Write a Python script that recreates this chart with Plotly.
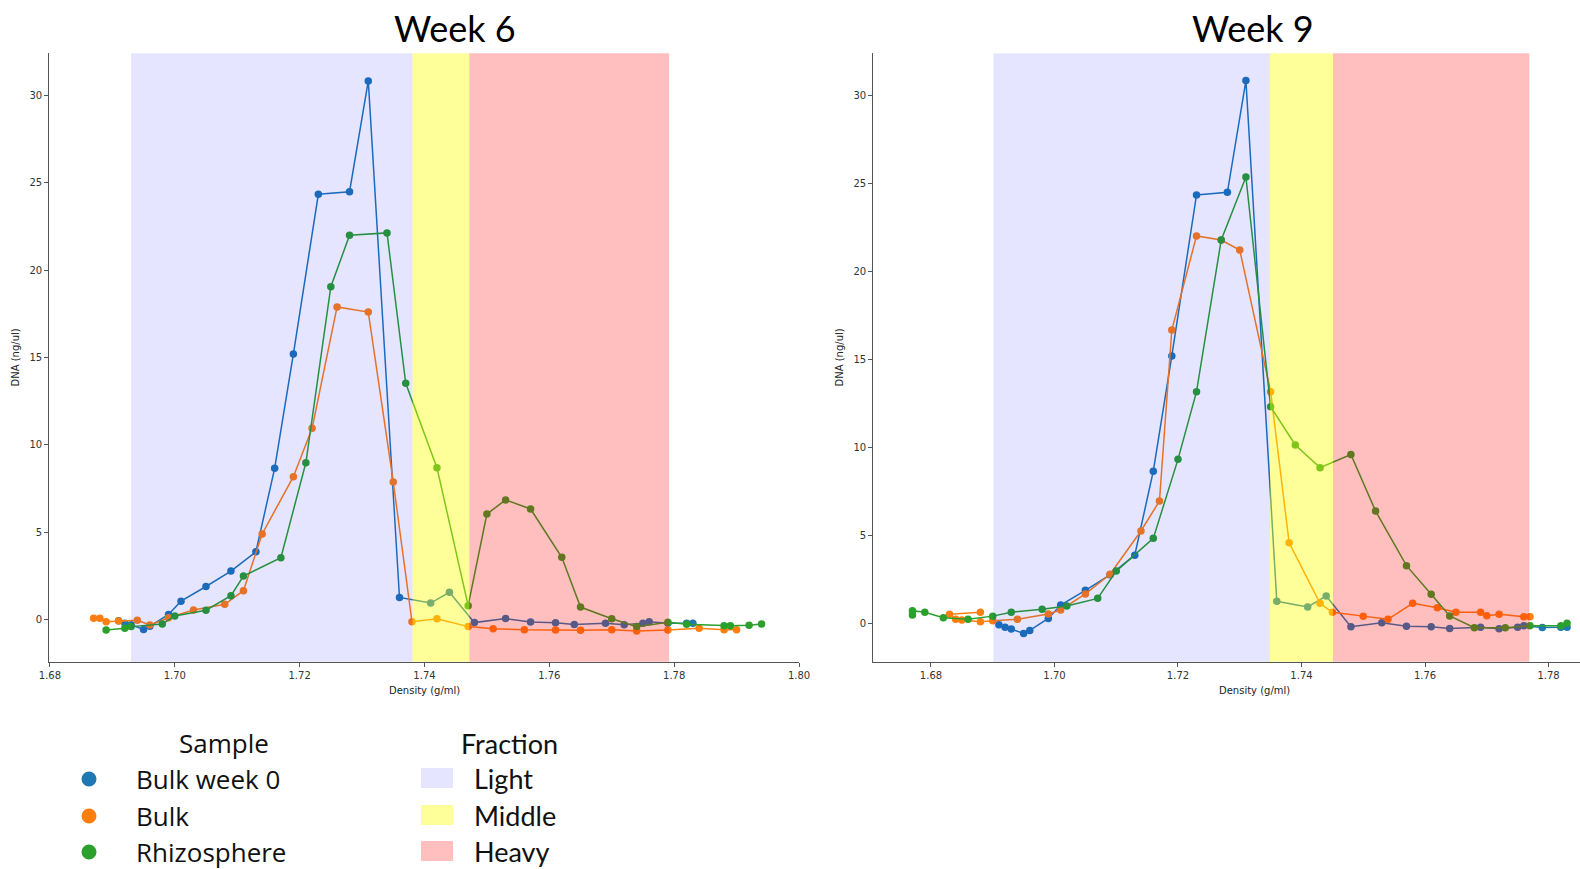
import plotly.graph_objects as go

W, H = 1580, 869

# ---------------- data ----------------
bulk0_x = [1.691, 1.692, 1.693, 1.695, 1.696, 1.699, 1.701, 1.705, 1.709, 1.713, 1.716, 1.719, 1.723, 1.728,
           1.731, 1.736, 1.741, 1.744, 1.748, 1.753, 1.757, 1.761, 1.764, 1.769, 1.772, 1.775, 1.776, 1.779,
           1.782, 1.783]
bulk0_y = [-0.08, -0.22, -0.32, -0.58, -0.40, 0.28, 1.04, 1.88, 2.76, 3.87, 8.65, 15.2, 24.35, 24.5,
           30.85, 1.25, 0.93, 1.55, -0.19, 0.04, -0.16, -0.20, -0.30, -0.22, -0.31, -0.22, -0.14, -0.23,
           -0.22, -0.22]

w6_bulk_x = [1.687, 1.688, 1.689, 1.691, 1.694, 1.696, 1.699, 1.703, 1.708, 1.711, 1.714, 1.719, 1.722, 1.726,
             1.731, 1.735, 1.738, 1.742, 1.747, 1.751, 1.756, 1.761, 1.765, 1.770, 1.774, 1.779, 1.784, 1.788,
             1.790]
w6_bulk_y = [0.06, 0.06, -0.14, -0.10, -0.06, -0.33, 0.09, 0.53, 0.86, 1.64, 4.89, 8.17, 10.94, 17.9,
             17.6, 7.87, -0.14, 0.03, -0.42, -0.54, -0.60, -0.61, -0.63, -0.60, -0.67, -0.61, -0.52, -0.60,
             -0.60]

w6_rhizo_x = [1.689, 1.692, 1.693, 1.698, 1.700, 1.705, 1.709, 1.711, 1.717, 1.721, 1.725, 1.728, 1.734, 1.737,
              1.742, 1.747, 1.750, 1.753, 1.757, 1.762, 1.765, 1.770, 1.774, 1.779, 1.782, 1.788, 1.789, 1.792,
              1.794]
w6_rhizo_y = [-0.61, -0.52, -0.42, -0.27, 0.19, 0.52, 1.35, 2.48, 3.53, 8.97, 19.06, 22.0, 22.14, 13.52,
              8.69, 0.78, 6.03, 6.84, 6.32, 3.55, 0.70, 0.03, -0.42, -0.17, -0.29, -0.37, -0.37, -0.34,
              -0.27]

w9_bulk_x = [1.688, 1.683, 1.684, 1.685, 1.688, 1.690, 1.694, 1.699, 1.701, 1.705, 1.709, 1.714, 1.717, 1.719,
             1.723, 1.727, 1.730, 1.735, 1.738, 1.743, 1.745, 1.750, 1.754, 1.758, 1.762, 1.765, 1.769, 1.770,
             1.772, 1.776, 1.777]
w9_bulk_y = [0.63, 0.51, 0.23, 0.19, 0.09, 0.15, 0.23, 0.53, 0.76, 1.67, 2.79, 5.25, 6.95, 16.67,
             22.02, 21.79, 21.22, 13.17, 4.58, 1.14, 0.63, 0.41, 0.23, 1.14, 0.89, 0.63, 0.63, 0.43,
             0.51, 0.38, 0.38]

w9_rhizo_x = [1.677, 1.677, 1.679, 1.682, 1.686, 1.690, 1.693, 1.698, 1.702, 1.707, 1.710, 1.716, 1.720, 1.723,
              1.727, 1.731, 1.735, 1.739, 1.743, 1.748, 1.752, 1.757, 1.761, 1.764, 1.768, 1.773, 1.777, 1.782,
              1.783]
w9_rhizo_y = [0.47, 0.72, 0.63, 0.32, 0.23, 0.41, 0.63, 0.80, 0.98, 1.42, 2.97, 4.83, 9.32, 13.17,
              21.79, 25.37, 12.31, 10.14, 8.85, 9.60, 6.38, 3.28, 1.65, 0.42, -0.25, -0.25, -0.14, -0.14,
              0.0]

# fraction bands (density bounds): light, middle, heavy
w6_bands = [1.6930, 1.7381, 1.7472, 1.7792]
w9_bands = [1.6901, 1.7349, 1.7451, 1.7769]

sample_names = ["Bulk week 0", "Bulk", "Rhizosphere"]
sample_colors = ["#1f77b4", "#ff7f0e", "#2ca02c"]
fraction_names = ["Light", "Middle", "Heavy"]
fraction_fills = ["rgba(0,0,255,0.10)", "rgba(255,255,0,0.40)", "rgba(255,0,0,0.25)"]

titles = ["Week 6", "Week 9"]
x_label = "Density (g/ml)"
y_label = "DNA (ng/ul)"
y_ticks = [0, 5, 10, 15, 20, 25, 30]
x_ticks_left = [1.68, 1.70, 1.72, 1.74, 1.76, 1.78, 1.80]
x_ticks_right = [1.68, 1.70, 1.72, 1.74, 1.76, 1.78]


def PX(px):
    return px / W


def PY(py):
    return 1 - py / H


fig = go.Figure()

panels = [
    ("x", "y", [(bulk0_x, bulk0_y), (w6_bulk_x, w6_bulk_y), (w6_rhizo_x, w6_rhizo_y)]),
    ("x2", "y2", [(bulk0_x, bulk0_y), (w9_bulk_x, w9_bulk_y), (w9_rhizo_x, w9_rhizo_y)]),
]
for xa, ya, series in panels:
    for (sx, sy), name, col in zip(series, sample_names, sample_colors):
        fig.add_trace(go.Scatter(
            x=sx, y=sy, xaxis=xa, yaxis=ya, name=name, mode="lines+markers",
            line=dict(color=col, width=1.5), marker=dict(color=col, size=7.5),
            showlegend=False, cliponaxis=True))

# bands drawn over the data (semi-transparent)
for xa, bands in (("x", w6_bands), ("x2", w9_bands)):
    for i in range(3):
        fig.add_shape(type="rect", xref=xa, yref=("y domain" if xa == "x" else "y2 domain"),
                      x0=bands[i], x1=bands[i + 1], y0=0, y1=1,
                      fillcolor=fraction_fills[i], line=dict(width=0), layer="above")

ydom = [PY(661.7), PY(53.3)]
tickfont = dict(family="DejaVu Sans", size=10, color="#333333")
axis_common = dict(showline=True, linecolor="#555555", linewidth=1.2, ticks="outside", ticklen=4,
                   tickcolor="#555555", tickwidth=1, showgrid=False, zeroline=False, tickfont=tickfont,
                   automargin=False)

fig.update_layout(
    width=W, height=H, margin=dict(l=0, r=0, t=0, b=0, pad=0, autoexpand=False),
    paper_bgcolor="white", plot_bgcolor="white", showlegend=False,
    xaxis=dict(domain=[PX(49.3), PX(799)], range=[1.6799, 1.8000], anchor="y",
               tickvals=x_ticks_left, ticktext=[f"{v:.2f}" for v in x_ticks_left], **axis_common),
    yaxis=dict(domain=ydom, range=[-2.43, 32.43], anchor="x",
               tickvals=y_ticks, ticktext=[str(v) for v in y_ticks], **axis_common),
    xaxis2=dict(domain=[PX(873.3), 1.0], range=[1.67066, 1.7851], anchor="y2",
                tickvals=x_ticks_right, ticktext=[f"{v:.2f}" for v in x_ticks_right], **axis_common),
    yaxis2=dict(domain=ydom, range=[-2.18, 32.40], anchor="x2",
                tickvals=y_ticks, ticktext=[str(v) for v in y_ticks], **axis_common),
)

ann = []
# titles
for t, cx in zip(titles, [455, 1253]):
    ann.append(dict(text=t, x=PX(cx), y=PY(28), xref="paper", yref="paper", xanchor="center",
                    yanchor="middle", showarrow=False,
                    font=dict(family="Lato", size=36, color="black")))
# axis titles
for cx in (424, 1254.5):
    ann.append(dict(text=x_label, x=PX(cx), y=PY(690), xref="paper", yref="paper", xanchor="center",
                    yanchor="middle", showarrow=False,
                    font=dict(family="DejaVu Sans", size=10, color="#222222")))
for cx in (15, 839):
    ann.append(dict(text=y_label, x=PX(cx), y=PY(357.5), xref="paper", yref="paper", xanchor="center",
                    yanchor="middle", showarrow=False, textangle=-90,
                    font=dict(family="DejaVu Sans", size=10, color="#222222")))

# legend: Sample
ann.append(dict(text="Sample", x=PX(224), y=PY(743), xref="paper", yref="paper", xanchor="center",
                yanchor="middle", showarrow=False, font=dict(family="Open Sans", size=26, color="#111111")))
rows = [779, 816, 852]
for name, col, ry in zip(sample_names, sample_colors, rows):
    r = 7.5
    fig.add_shape(type="circle", xref="paper", yref="paper", x0=PX(89 - r), x1=PX(89 + r),
                  y0=PY(ry + r), y1=PY(ry - r), fillcolor=col, line=dict(width=0))
    ann.append(dict(text=name, x=PX(134), y=PY(ry), xref="paper", yref="paper", xanchor="left",
                    yanchor="middle", showarrow=False, font=dict(family="Open Sans", size=26, color="#111111")))

# legend: Fraction
ann.append(dict(text="Fraction", x=PX(509), y=PY(743), xref="paper", yref="paper", xanchor="center",
                yanchor="middle", showarrow=False, font=dict(family="Lato", size=27, color="#111111")))
for name, fill, ry in zip(fraction_names, fraction_fills, [778, 815, 851]):
    fig.add_shape(type="rect", xref="paper", yref="paper", x0=PX(421), x1=PX(453),
                  y0=PY(ry + 10), y1=PY(ry - 10), fillcolor=fill, line=dict(width=0))
    ann.append(dict(text=name, x=PX(472), y=PY(ry), xref="paper", yref="paper", xanchor="left",
                    yanchor="middle", showarrow=False, font=dict(family="Lato", size=27, color="#111111")))

fig.update_layout(annotations=ann)
fig.write_html("out.html")
